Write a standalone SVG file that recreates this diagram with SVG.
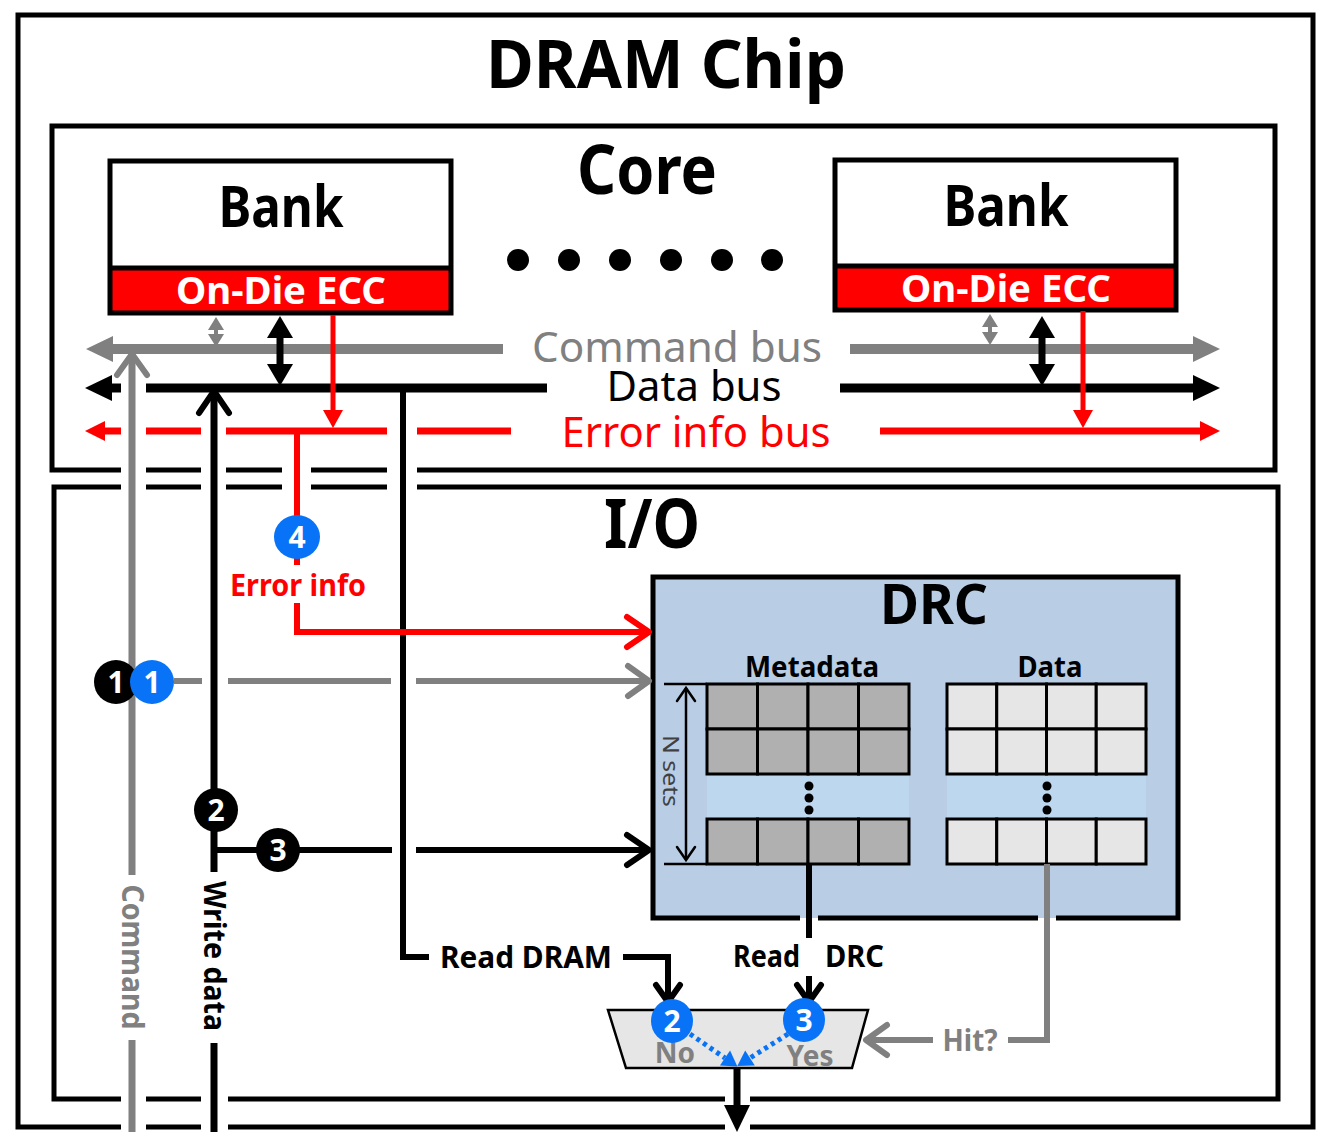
<svg xmlns="http://www.w3.org/2000/svg" width="1329" height="1147" viewBox="0 0 1329 1147">
<style>
text{font-family:"Noto Sans","Open Sans","Liberation Sans",sans-serif}
.b{font-weight:bold}
.box{fill:none;stroke:#000;stroke-width:5}
.gl{stroke:#808080;fill:none}
.kl{stroke:#000;fill:none}
.rl{stroke:#f00;fill:none}
.bc{fill:#0873F7}
.kc{fill:#000}
.num{font-weight:bold;font-size:30px;fill:#fff;text-anchor:middle}
.cell{stroke:#000;stroke-width:3}
</style>
<defs>
<marker id="tG" markerUnits="userSpaceOnUse" refX="0" refY="0" orient="auto" overflow="visible"><path d="M0,-13 L27,0 L0,13 z" fill="#808080"/></marker>
<marker id="tK" markerUnits="userSpaceOnUse" refX="0" refY="0" orient="auto" overflow="visible"><path d="M0,-13 L27,0 L0,13 z" fill="#000"/></marker>
<marker id="tR" markerUnits="userSpaceOnUse" refX="0" refY="0" orient="auto" overflow="visible"><path d="M0,-10 L20,0 L0,10 z" fill="#f00"/></marker>
<marker id="dK" markerUnits="userSpaceOnUse" refX="0" refY="0" orient="auto-start-reverse" overflow="visible"><path d="M0,-13 L22,0 L0,13 z" fill="#000"/></marker>
<marker id="dG" markerUnits="userSpaceOnUse" refX="0" refY="0" orient="auto-start-reverse" overflow="visible"><path d="M0,-8 L13,0 L0,8 z" fill="#808080"/></marker>
<marker id="rR" markerUnits="userSpaceOnUse" refX="0" refY="0" orient="auto" overflow="visible"><path d="M0,-10 L18,0 L0,10 z" fill="#f00"/></marker>
<marker id="oK" markerUnits="userSpaceOnUse" refX="0" refY="0" orient="auto" overflow="visible"><path d="M-22,-15 L0,0 L-22,15" fill="none" stroke="#000" stroke-width="6" stroke-linecap="round" stroke-linejoin="round"/></marker>
<marker id="oG" markerUnits="userSpaceOnUse" refX="0" refY="0" orient="auto" overflow="visible"><path d="M-21,-15 L0,0 L-21,15" fill="none" stroke="#808080" stroke-width="6" stroke-linecap="round" stroke-linejoin="round"/></marker>
<marker id="oR" markerUnits="userSpaceOnUse" refX="0" refY="0" orient="auto" overflow="visible"><path d="M-22,-15 L0,0 L-22,15" fill="none" stroke="#f00" stroke-width="6" stroke-linecap="round" stroke-linejoin="round"/></marker>
<marker id="oKs" markerUnits="userSpaceOnUse" refX="0" refY="0" orient="auto" overflow="visible"><path d="M-17,-12 L0,0 L-17,12" fill="none" stroke="#000" stroke-width="6" stroke-linecap="round" stroke-linejoin="round"/></marker>
<marker id="oN" markerUnits="userSpaceOnUse" refX="0" refY="0" orient="auto-start-reverse" overflow="visible"><path d="M-13,-9 L0,0 L-13,9" fill="none" stroke="#000" stroke-width="2.5" stroke-linecap="round"/></marker>
<marker id="tB" markerUnits="userSpaceOnUse" refX="0" refY="0" orient="auto" overflow="visible"><path d="M0,-9 L15,0 L0,9 z" fill="#0873F7"/></marker>
</defs>
<rect width="1329" height="1147" fill="#fff"/>

<g id="dram-chip">
<path class="box" stroke-width="6" d="M725,1127 H228 M201,1127 H146 M121,1127 H18 V15 H1313 V1127 H750"/>
<text class="b" x="666" y="88" font-size="66" text-anchor="middle" textLength="360" lengthAdjust="spacingAndGlyphs">DRAM Chip</text>
</g>

<g id="core">
<path class="box" d="M417,470 H1275 V126 H52 V470 H121 M146,470 H201 M226,470 H282 M311,470 H387"/>
<text class="b" x="647" y="194" font-size="68" text-anchor="middle" textLength="140" lengthAdjust="spacingAndGlyphs">Core</text>
<g fill="#000"><circle cx="518" cy="260" r="11"/><circle cx="569" cy="260" r="11"/><circle cx="620" cy="260" r="11"/><circle cx="671" cy="260" r="11"/><circle cx="722" cy="260" r="11"/><circle cx="772" cy="260" r="11"/></g>
</g>

<g id="io">
<path class="box" d="M417,487 H1278 V1099 H750 M725,1099 H228 M201,1099 H146 M121,1099 H54 V487 H121 M146,487 H201 M226,487 H282 M311,487 H387"/>
<text class="b" x="652" y="548" font-size="68" text-anchor="middle" textLength="96" lengthAdjust="spacingAndGlyphs">I/O</text>
</g>

<g id="bank-left">
<rect x="110" y="161" width="341" height="152" fill="#fff"/>
<rect x="110" y="268" width="341" height="45" fill="#f00"/>
<rect class="box" x="110" y="161" width="341" height="152"/>
<line x1="110" y1="268" x2="451" y2="268" stroke="#000" stroke-width="5"/>
<text class="b" x="281" y="227" font-size="58" text-anchor="middle" textLength="125" lengthAdjust="spacingAndGlyphs">Bank</text>
<text class="b" x="281" y="304" font-size="38" fill="#fff" text-anchor="middle" textLength="210" lengthAdjust="spacingAndGlyphs">On-Die ECC</text>
</g>

<g id="bank-right">
<rect x="835" y="160" width="341" height="150" fill="#fff"/>
<rect x="835" y="266" width="341" height="44" fill="#f00"/>
<rect class="box" x="835" y="160" width="341" height="150"/>
<line x1="835" y1="266" x2="1176" y2="266" stroke="#000" stroke-width="5"/>
<text class="b" x="1006" y="226" font-size="58" text-anchor="middle" textLength="125" lengthAdjust="spacingAndGlyphs">Bank</text>
<text class="b" x="1006" y="302" font-size="38" fill="#fff" text-anchor="middle" textLength="210" lengthAdjust="spacingAndGlyphs">On-Die ECC</text>
</g>

<g id="drc">
<rect x="653" y="577" width="525" height="341" fill="#B9CDE5"/>
<path class="box" d="M800,918 H653 V577 H1178 V918 H1056 M1038,918 H818"/>
<text class="b" x="934" y="624" font-size="56" text-anchor="middle" textLength="108" lengthAdjust="spacingAndGlyphs">DRC</text>
<text class="b" x="812" y="677" font-size="28" text-anchor="middle" textLength="134" lengthAdjust="spacingAndGlyphs">Metadata</text>
<text class="b" x="1050" y="677" font-size="28" text-anchor="middle" textLength="65" lengthAdjust="spacingAndGlyphs">Data</text>
<rect x="707" y="774" width="202" height="45" fill="#BDD7EE"/>
<rect x="947" y="774" width="199" height="45" fill="#BDD7EE"/>
<g fill="#B0B0B0" class="cell">
<rect x="707" y="684" width="50.5" height="45"/><rect x="757.5" y="684" width="50.5" height="45"/><rect x="808" y="684" width="50.5" height="45"/><rect x="858.5" y="684" width="50.5" height="45"/>
<rect x="707" y="729" width="50.5" height="45"/><rect x="757.5" y="729" width="50.5" height="45"/><rect x="808" y="729" width="50.5" height="45"/><rect x="858.5" y="729" width="50.5" height="45"/>
<rect x="707" y="819" width="50.5" height="45"/><rect x="757.5" y="819" width="50.5" height="45"/><rect x="808" y="819" width="50.5" height="45"/><rect x="858.5" y="819" width="50.5" height="45"/>
</g>
<g fill="#E6E6E6" class="cell">
<rect x="947" y="684" width="49.75" height="45"/><rect x="996.75" y="684" width="49.75" height="45"/><rect x="1046.5" y="684" width="49.75" height="45"/><rect x="1096.25" y="684" width="49.75" height="45"/>
<rect x="947" y="729" width="49.75" height="45"/><rect x="996.75" y="729" width="49.75" height="45"/><rect x="1046.5" y="729" width="49.75" height="45"/><rect x="1096.25" y="729" width="49.75" height="45"/>
<rect x="947" y="819" width="49.75" height="45"/><rect x="996.75" y="819" width="49.75" height="45"/><rect x="1046.5" y="819" width="49.75" height="45"/><rect x="1096.25" y="819" width="49.75" height="45"/>
</g>
<g fill="#000"><circle cx="809" cy="786" r="4.5"/><circle cx="809" cy="798" r="4.5"/><circle cx="809" cy="810" r="4.5"/>
<circle cx="1047" cy="786" r="4.5"/><circle cx="1047" cy="798" r="4.5"/><circle cx="1047" cy="810" r="4.5"/></g>
<path d="M664,684 H707 M664,864 H707" stroke="#000" stroke-width="2.5"/>
<path d="M686,688 V860" stroke="#000" stroke-width="2.5" marker-start="url(#oN)" marker-end="url(#oN)"/>
<text transform="translate(672,771) rotate(90)" y="9" font-size="22" fill="#404040" text-anchor="middle" textLength="72" lengthAdjust="spacingAndGlyphs">N sets</text>
</g>

<g id="mux">
<polygon points="608,1010 868,1010 852,1068 626,1068" fill="#E6E6E6" stroke="#000" stroke-width="2.5"/>
<text class="b" x="675" y="1063" font-size="28" fill="#808080" text-anchor="middle">No</text>
<text class="b" x="810" y="1066" font-size="28" fill="#808080" text-anchor="middle">Yes</text>
</g>

<g id="connectors">
<path class="gl" stroke-width="10" d="M503,349 H113" marker-end="url(#tG)"/>
<path class="gl" stroke-width="10" d="M850,349 H1193" marker-end="url(#tG)"/>
<path class="kl" stroke-width="9" d="M121,388 H112" marker-end="url(#tK)"/>
<path class="kl" stroke-width="9" d="M146,388 H547"/>
<path class="kl" stroke-width="9" d="M840,388 H1193" marker-end="url(#tK)"/>
<path class="rl" stroke-width="7" d="M121,431 H105" marker-end="url(#tR)"/>
<path class="rl" stroke-width="7" d="M146,431 H201 M226,431 H387 M417,431 H511"/>
<path class="rl" stroke-width="7" d="M880,431 H1200" marker-end="url(#tR)"/>
<path class="gl" stroke-width="4" d="M216,330 V334" marker-start="url(#dG)" marker-end="url(#dG)"/>
<path class="kl" stroke-width="7" d="M280,338 V364" marker-start="url(#dK)" marker-end="url(#dK)"/>
<path class="rl" stroke-width="5" d="M333,315 V410" marker-end="url(#rR)"/>
<path class="gl" stroke-width="4" d="M990,327 V332" marker-start="url(#dG)" marker-end="url(#dG)"/>
<path class="kl" stroke-width="7" d="M1042,338 V364" marker-start="url(#dK)" marker-end="url(#dK)"/>
<path class="rl" stroke-width="5" d="M1083,311 V410" marker-end="url(#rR)"/>
<path class="gl" stroke-width="7" d="M132,1132 V1040 M132,875 V354" marker-end="url(#oG)"/>
<path class="kl" stroke-width="7" d="M214,1132 V1043 M214,872 V391" marker-end="url(#oK)"/>
<path class="kl" stroke-width="6" d="M403,388 V957 H429"/>
<path class="kl" stroke-width="6" d="M623,957 H668 V1002" marker-end="url(#oKs)"/>
<path class="gl" stroke-width="6" d="M174,681 H202 M228,681 H391 M416,681 H649" marker-end="url(#oG)"/>
<path class="kl" stroke-width="6" d="M214,850 H392 M416,850 H649" marker-end="url(#oK)"/>
<path class="rl" stroke-width="6" d="M297,431 V565 M297,603 V632 H649" marker-end="url(#oR)"/>
<path class="kl" stroke-width="6" d="M809,864 V938 M809,976 V1002" marker-end="url(#oKs)"/>
<path class="gl" stroke-width="6" d="M1047,864 V1040 H1008 M933,1040 H866" marker-end="url(#oG)"/>
<path stroke="#0873F7" stroke-width="5" stroke-dasharray="4,4" fill="none" d="M690,1034 L725,1058" marker-end="url(#tB)"/>
<path stroke="#0873F7" stroke-width="5" stroke-dasharray="4,4" fill="none" d="M788,1034 L750,1058" marker-end="url(#tB)"/>
<path class="kl" stroke-width="7" d="M737,1068 V1105" marker-end="url(#tK)"/>
</g>

<g id="bus-labels">
<text x="677" y="362" font-size="42" fill="#808080" text-anchor="middle" textLength="290" lengthAdjust="spacingAndGlyphs">Command bus</text>
<text x="694" y="401" font-size="42" fill="#000" text-anchor="middle" textLength="175" lengthAdjust="spacingAndGlyphs">Data bus</text>
<text x="696" y="447" font-size="42" fill="#f00" text-anchor="middle" textLength="269" lengthAdjust="spacingAndGlyphs">Error info bus</text>
</g>

<g id="labels">
<text class="b" x="298" y="596" font-size="30" fill="#f00" text-anchor="middle" textLength="136" lengthAdjust="spacingAndGlyphs">Error info</text>
<text class="b" x="526" y="968" font-size="30" text-anchor="middle" textLength="172" lengthAdjust="spacingAndGlyphs">Read DRAM</text>
<text class="b" font-size="30" y="967"><tspan x="733" textLength="67" lengthAdjust="spacingAndGlyphs">Read</tspan> <tspan x="825" textLength="59" lengthAdjust="spacingAndGlyphs">DRC</tspan></text>
<text class="b" x="970" y="1051" font-size="30" fill="#808080" text-anchor="middle" textLength="55" lengthAdjust="spacingAndGlyphs">Hit?</text>
<text class="b" transform="translate(132,957) rotate(90)" y="10.5" font-size="30" fill="#808080" text-anchor="middle" textLength="145" lengthAdjust="spacingAndGlyphs">Command</text>
<text class="b" transform="translate(214,956) rotate(90)" y="10.5" font-size="30" fill="#000" text-anchor="middle" textLength="150" lengthAdjust="spacingAndGlyphs">Write data</text>
</g>

<g id="step-k1"><circle class="kc" cx="116" cy="682" r="22"/><text class="num" x="116" y="693">1</text></g>
<g id="step-b1"><circle class="bc" cx="152" cy="682" r="22"/><text class="num" x="152" y="693">1</text></g>
<g id="step-k2"><circle class="kc" cx="216" cy="810" r="22"/><text class="num" x="216" y="821">2</text></g>
<g id="step-k3"><circle class="kc" cx="278" cy="850" r="22"/><text class="num" x="278" y="861">3</text></g>
<g id="step-b4"><ellipse class="bc" cx="297" cy="537" rx="23" ry="22"/><text class="num" x="297" y="548">4</text></g>
<g id="step-b2"><ellipse class="bc" cx="672" cy="1021" rx="21" ry="22"/><text class="num" x="672" y="1032">2</text></g>
<g id="step-b3"><ellipse class="bc" cx="804" cy="1020" rx="21" ry="22"/><text class="num" x="804" y="1031">3</text></g>
</svg>
